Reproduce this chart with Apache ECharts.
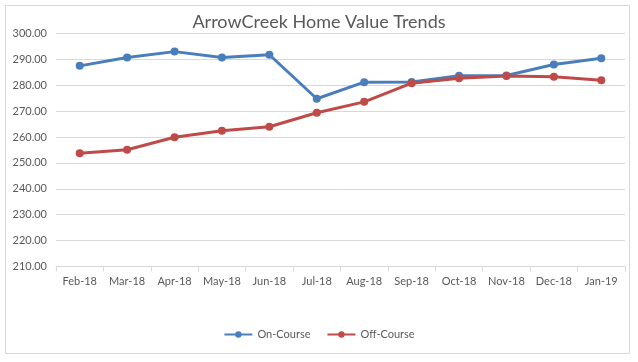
<!DOCTYPE html>
<html><head><meta charset="utf-8">
<script src="https://cdn.jsdelivr.net/npm/echarts@6/dist/echarts.min.js"></script>
<style>html,body{margin:0;padding:0;background:#fff}#c{width:638px;height:362px}</style>
</head><body><div id="c"></div>
<script>
var categories = ['Feb-18','Mar-18','Apr-18','May-18','Jun-18','Jul-18','Aug-18','Sep-18','Oct-18','Nov-18','Dec-18','Jan-19'];
var onCourse = [287.5, 290.7, 293.0, 290.7, 291.8, 274.8, 281.2, 281.3, 283.7, 283.8, 288.0, 290.4];
var offCourse = [253.7, 255.1, 259.9, 262.4, 264.0, 269.4, 273.6, 280.8, 282.7, 283.6, 283.3, 281.9];
var seriesNames = ['On-Course', 'Off-Course'];
var titleText = 'ArrowCreek Home Value Trends';

var font = 'Lato, "Open Sans", sans-serif';
var chart = echarts.init(document.getElementById('c'));
chart.setOption({
  animation: false,
  backgroundColor: '#fff',
  title: { text: titleText, left: 'center', top: 8,
    textStyle: { fontFamily: font, fontSize: 18, fontWeight: 'normal', color: '#595959' } },
  graphic: [{ type: 'rect', shape: { x: 5.5, y: 5.5, width: 624, height: 348 },
    style: { fill: 'none', stroke: '#d9d9d9', lineWidth: 1 }, z: -1 }],
  grid: { left: 56, right: 13, top: 33.5, bottom: 95.5 },
  legend: { data: seriesNames, bottom: 17, left: 'center', itemWidth: 28, itemHeight: 8, itemGap: 16,
    textStyle: { fontFamily: font, fontSize: 11, color: '#595959' } },
  xAxis: { type: 'category', data: categories, boundaryGap: true,
    axisLine: { lineStyle: { color: '#d9d9d9' } },
    axisTick: { show: true, length: 5, interval: 0, lineStyle: { color: '#d9d9d9' } },
    axisLabel: { interval: 0, fontFamily: font, fontSize: 11, color: '#595959', margin: 9 } },
  yAxis: { type: 'value', min: 210, max: 300, interval: 10,
    axisLine: { show: false }, axisTick: { show: false },
    splitLine: { lineStyle: { color: '#d9d9d9' } },
    axisLabel: { fontFamily: font, fontSize: 11, color: '#595959', margin: 9,
      formatter: function (v) { return v.toFixed(2); } } },
  series: [
    { name: seriesNames[0], type: 'line', data: onCourse, symbol: 'circle', symbolSize: 8,
      itemStyle: { color: '#4a7ebb' }, lineStyle: { width: 3, color: '#4a7ebb' } },
    { name: seriesNames[1], type: 'line', data: offCourse, symbol: 'circle', symbolSize: 8,
      itemStyle: { color: '#be4b48' }, lineStyle: { width: 3, color: '#be4b48' } }
  ]
});
</script></body></html>
